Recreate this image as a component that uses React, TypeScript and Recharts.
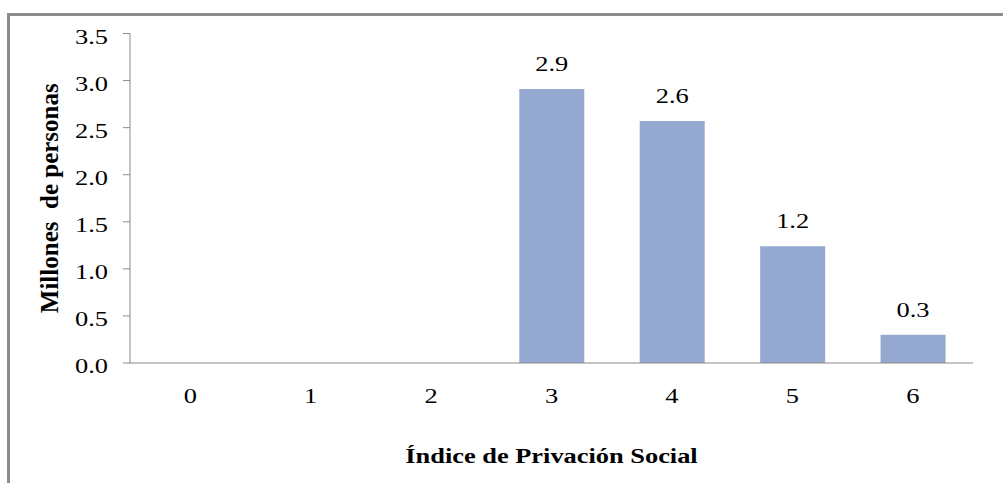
import { Bar, BarChart, Label, LabelList, XAxis, YAxis } from "recharts";

const categories = ["0", "1", "2", "3", "4", "5", "6"];
const personas: (number | null)[] = [null, null, null, 2.91, 2.57, 1.24, 0.3];
const yTicks = [0, 0.5, 1, 1.5, 2, 2.5, 3, 3.5];

const data = categories.map((indice, i) => ({ indice, personas: personas[i] }));

const FONT = '"Liberation Serif", "Times New Roman", serif';
const AXIS = "#8a8a8a";
const BAR = "#94a8d0";
// the source text is drawn noticeably wider than plain Times
const WIDEN = 1.2;

function renderYTick(props: any) {
  const { x, y, payload } = props;
  return (
    <text
      transform={`translate(${x},${y + 10}) scale(${WIDEN},1)`}
      textAnchor="end"
      fontFamily={FONT}
      fontSize={22}
      fill="#000"
    >
      {Number(payload.value).toFixed(1)}
    </text>
  );
}

function renderXTick(props: any) {
  const { x, y, payload } = props;
  return (
    <text
      transform={`translate(${x},${y + 40}) scale(${WIDEN},1)`}
      textAnchor="middle"
      fontFamily={FONT}
      fontSize={22}
      fill="#000"
    >
      {payload.value}
    </text>
  );
}

function renderBarLabel(props: any) {
  const vb = props.viewBox ?? props;
  const { x, y, width } = vb;
  if (props.value === null || props.value === undefined) return null;
  return (
    <text
      transform={`translate(${x + width / 2},${y - 18}) scale(${WIDEN},1)`}
      textAnchor="middle"
      fontFamily={FONT}
      fontSize={22}
      fill="#000"
    >
      {Number(props.value).toFixed(1)}
    </text>
  );
}

function renderXTitle(props: any) {
  const vb = props.viewBox ?? { x: 130, y: 363, width: 843, height: 120 };
  return (
    <text
      transform={`translate(${vb.x + vb.width / 2},${vb.y + 100}) scale(${WIDEN},1)`}
      textAnchor="middle"
      fontFamily={FONT}
      fontSize={22}
      fontWeight="bold"
      fill="#000"
    >
      Índice de Privación Social
    </text>
  );
}

function renderYTitle(props: any) {
  const vb = props.viewBox ?? { x: 0, y: 33.5, width: 130, height: 329.5 };
  return (
    <text
      transform={`translate(58,${vb.y + vb.height / 2}) rotate(-90)`}
      textAnchor="middle"
      fontFamily={FONT}
      fontSize={25}
      fontWeight="bold"
      fill="#000"
      style={{ whiteSpace: "pre" }}
    >
      {"Millones  de personas"}
    </text>
  );
}

export default function App() {
  return (
    <div style={{ position: "relative", width: 1003, height: 483, overflow: "hidden", background: "#fff" }}>
      <style>{"body{margin:0}"}</style>
      <div
        style={{
          position: "absolute",
          left: 7,
          top: 13,
          width: 1100,
          height: 600,
          border: "3px solid #8c8c8c",
        }}
      />
      <div style={{ position: "absolute", left: 0, top: 0 }}>
        <BarChart
          width={1003}
          height={483}
          data={data}
          margin={{ top: 33.5, right: 30, bottom: 0, left: 0 }}
        >
          <XAxis
            dataKey="indice"
            height={120}
            tickLine={false}
            tickSize={0}
            tickMargin={0}
            axisLine={{ stroke: AXIS }}
            tick={renderXTick}
            interval={0}
          >
            <Label content={renderXTitle} />
          </XAxis>
          <YAxis
            width={130}
            domain={[0, 3.5]}
            ticks={yTicks}
            tickSize={7}
            tickMargin={15}
            tickLine={{ stroke: AXIS }}
            axisLine={{ stroke: AXIS }}
            tick={renderYTick}
            interval={0}
          >
            <Label content={renderYTitle} />
          </YAxis>
          <Bar dataKey="personas" fill={BAR} barSize={65} isAnimationActive={false}>
            <LabelList dataKey="personas" content={renderBarLabel} />
          </Bar>
        </BarChart>
      </div>
    </div>
  );
}
